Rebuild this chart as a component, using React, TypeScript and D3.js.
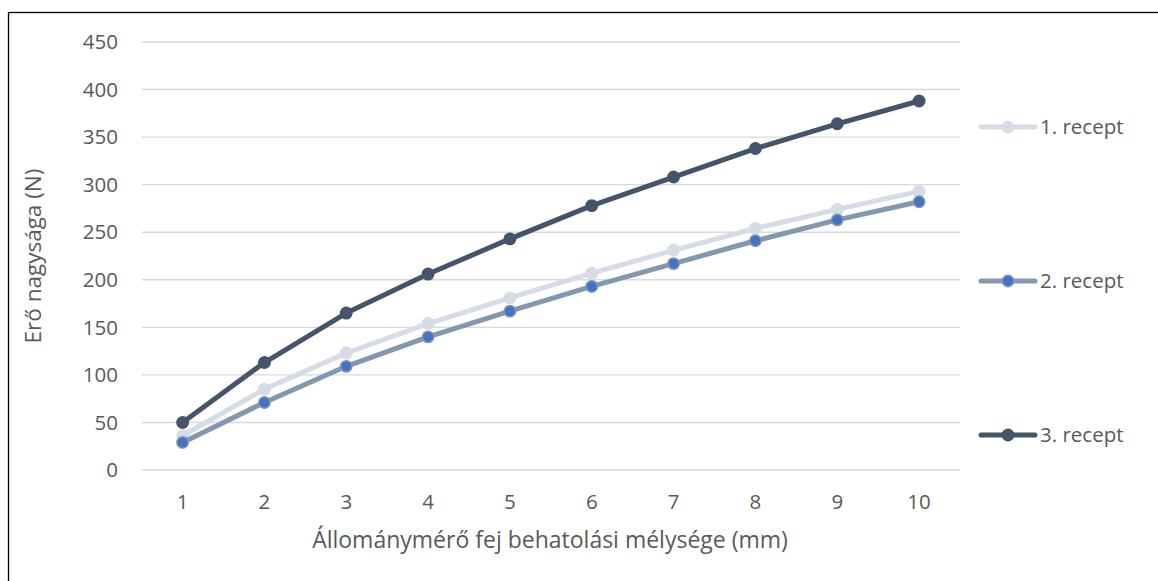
import { useEffect, useRef } from 'react';
import * as d3 from 'd3';

// depth (mm) on the x axis
const depths = ['1', '2', '3', '4', '5', '6', '7', '8', '9', '10'];
const yTicks = [0, 50, 100, 150, 200, 250, 300, 350, 400, 450];

const recept1 = [36, 85, 123, 154, 181, 207, 231, 254, 274, 293];
const recept2 = [29, 71, 109, 140, 167, 193, 217, 241, 263, 282];
const recept3 = [50, 113, 165, 206, 243, 278, 308, 338, 364, 388];

const seriesNames = ['1. recept', '2. recept', '3. recept'];

const WIDTH = 1158;
const HEIGHT = 581;
const FONT = '"Open Sans", "Noto Sans", sans-serif';
const TEXT = '#595959';

export default function App(): JSX.Element {
  const svgRef = useRef<SVGSVGElement>(null);

  useEffect(() => {
    if (!svgRef.current) return;
    const svg = d3.select(svgRef.current);
    svg.selectAll('*').remove();

    const plot = { left: 141.7, right: 960, top: 42, bottom: 470 };

    // outer frame (right / bottom edges fall outside the picture)
    svg.append('rect')
      .attr('x', 8.5).attr('y', 12.5)
      .attr('width', WIDTH).attr('height', HEIGHT)
      .attr('fill', 'white')
      .attr('stroke', '#000').attr('stroke-width', 1.3);

    const x = d3.scaleBand<string>()
      .domain(depths)
      .range([plot.left, plot.right]);
    const cx = (d: string) => (x(d) || 0) + x.bandwidth() / 2;

    const y = d3.scaleLinear()
      .domain([0, 450])
      .range([plot.bottom, plot.top]);

    // gridlines
    svg.append('g')
      .selectAll('line')
      .data(yTicks)
      .enter()
      .append('line')
      .attr('x1', plot.left).attr('x2', plot.right)
      .attr('y1', d => y(d)).attr('y2', d => y(d))
      .attr('stroke', '#d9d9d9')
      .attr('stroke-width', 1.4);

    // y tick labels
    svg.append('g')
      .selectAll('text')
      .data(yTicks)
      .enter()
      .append('text')
      .attr('x', 118)
      .attr('y', d => y(d))
      .attr('dy', '0.35em')
      .attr('text-anchor', 'end')
      .style('font-family', FONT)
      .style('font-size', '20.5px')
      .style('fill', TEXT)
      .text(d => d);

    // x tick labels
    svg.append('g')
      .selectAll('text')
      .data(depths)
      .enter()
      .append('text')
      .attr('x', d => cx(d))
      .attr('y', 502)
      .attr('dy', '0.35em')
      .attr('text-anchor', 'middle')
      .style('font-family', FONT)
      .style('font-size', '20.5px')
      .style('fill', TEXT)
      .text(d => d);

    // axis titles
    svg.append('text')
      .attr('x', 550)
      .attr('y', 540)
      .attr('dy', '0.35em')
      .attr('text-anchor', 'middle')
      .style('font-family', FONT)
      .style('font-size', '23px')
      .style('fill', TEXT)
      .text('Állománymérő fej behatolási mélysége (mm)');

    svg.append('text')
      .attr('transform', 'translate(33,256) rotate(-90)')
      .attr('dy', '0.35em')
      .attr('text-anchor', 'middle')
      .style('font-family', FONT)
      .style('font-size', '22.5px')
      .style('fill', TEXT)
      .text('Erő nagysága (N)');

    const series = [
      { name: seriesNames[0], values: recept1, line: '#d6dce5', fill: '#d6dce5', stroke: '#d6dce5', legendY: 127 },
      { name: seriesNames[1], values: recept2, line: '#8497b0', fill: '#4472c4', stroke: '#8497b0', legendY: 281 },
      { name: seriesNames[2], values: recept3, line: '#44546a', fill: '#44546a', stroke: '#44546a', legendY: 435 },
    ];

    const line = d3.line<number>()
      .x((_, i) => cx(depths[i]))
      .y(d => y(d));

    series.forEach(s => {
      const g = svg.append('g');
      g.append('path')
        .datum(s.values)
        .attr('d', line)
        .attr('fill', 'none')
        .attr('stroke', s.line)
        .attr('stroke-width', 5)
        .attr('stroke-linejoin', 'round')
        .attr('stroke-linecap', 'round');
      g.selectAll('circle')
        .data(s.values)
        .enter()
        .append('circle')
        .attr('cx', (_, i) => cx(depths[i]))
        .attr('cy', d => y(d))
        .attr('r', 5.7)
        .attr('fill', s.fill)
        .attr('stroke', s.stroke)
        .attr('stroke-width', 1.5);

      // legend entry
      const lg = svg.append('g');
      lg.append('line')
        .attr('x1', 981).attr('x2', 1035)
        .attr('y1', s.legendY).attr('y2', s.legendY)
        .attr('stroke', s.line)
        .attr('stroke-width', 5)
        .attr('stroke-linecap', 'round');
      lg.append('circle')
        .attr('cx', 1008).attr('cy', s.legendY)
        .attr('r', 5.7)
        .attr('fill', s.fill)
        .attr('stroke', s.stroke)
        .attr('stroke-width', 1.5);
      lg.append('text')
        .attr('x', 1040)
        .attr('y', s.legendY)
        .attr('dy', '0.35em')
        .style('font-family', FONT)
        .style('font-size', '20.5px')
        .style('fill', TEXT)
        .text(s.name);
    });
  }, []);

  return (
    <svg
      ref={svgRef}
      width={WIDTH}
      height={HEIGHT}
      style={{ position: 'absolute', left: 0, top: 0, background: 'white' }}
    />
  );
}
